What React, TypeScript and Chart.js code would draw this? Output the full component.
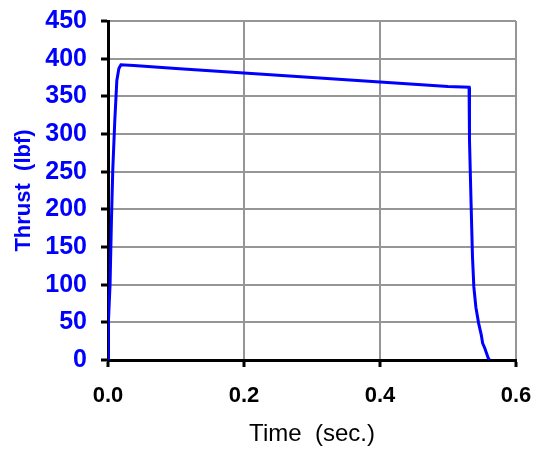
import React, { useEffect, useRef } from "react";
import { Chart, registerables } from "chart.js";

Chart.register(...registerables);

const timeSec = [0, 0.0005, 0.003, 0.005, 0.007, 0.010, 0.013, 0.016, 0.019, 0.038, 0.1, 0.2, 0.3, 0.4, 0.5, 0.531, 0.5316, 0.534, 0.536, 0.538, 0.541, 0.545, 0.549, 0.551, 0.554, 0.559, 0.561];
const thrustLbf = [0, 49, 100, 183, 252, 318, 371, 387, 392, 391, 387, 381, 375, 369, 363, 362, 292, 206, 137, 97, 70, 49, 33, 22, 16, 3, 0];
const xTitle = "Time  (sec.)";
const yTitle = "Thrust  (lbf)";

const FONT = "'Liberation Sans', Arial, sans-serif";

export default function App() {
  const ref = useRef<HTMLCanvasElement>(null);
  useEffect(() => {
    document.body.style.margin = "0";
    const ctx = ref.current!;
    const chart = new Chart(ctx, {
      type: "line",
      data: {
        datasets: [
          {
            data: timeSec.map((t, i) => ({ x: t, y: thrustLbf[i] })),
            borderColor: "#0000ff",
            borderWidth: 3,
            pointRadius: 0,
            tension: 0,
            fill: false,
          },
        ],
      },
      options: {
        animation: false,
        responsive: false,
        events: [],
        layout: { padding: { left: 0, top: 21, right: 24, bottom: 0 } },
        plugins: { legend: { display: false }, tooltip: { enabled: false } },
        scales: {
          x: {
            type: "linear",
            min: 0,
            max: 0.6,
            afterFit: (s: any) => {
              s.height = 90;
              s.paddingLeft = 0;
              s.paddingRight = 0;
            },
            ticks: {
              stepSize: 0.2,
              color: "#000",
              padding: 16,
              font: { family: FONT, size: 22, weight: "bold" },
              callback: (v: any) => Number(v).toFixed(1),
              maxRotation: 0,
            },
            grid: {
              color: "#969696",
              lineWidth: 2,
              tickColor: "#000",
              tickWidth: 3,
              tickLength: 7,
            },
            border: { color: "#000", width: 3 },
            title: {
              display: true,
              text: xTitle,
              color: "#000",
              font: { family: FONT, size: 24 },
              padding: { top: 0, bottom: 1 },
            },
          },
          y: {
            min: 0,
            max: 450,
            afterFit: (s: any) => {
              s.width = 108;
              s.paddingTop = 0;
              s.paddingBottom = 0;
            },
            ticks: {
              stepSize: 50,
              color: "#0000ff",
              padding: 14,
              font: { family: FONT, size: 25, weight: "bold" },
            },
            grid: {
              color: "#969696",
              lineWidth: 2,
              tickColor: "#000",
              tickWidth: 3,
              tickLength: 7,
            },
            border: { color: "#000", width: 3 },
            title: {
              display: true,
              text: yTitle,
              color: "#0000ff",
              font: { family: FONT, size: 22, weight: "bold" },
              padding: { top: 11, bottom: 0 },
            },
          },
        },
      },
    });
    return () => chart.destroy();
  }, []);
  return <canvas ref={ref} width={540} height={450} style={{ display: "block" }} />;
}
